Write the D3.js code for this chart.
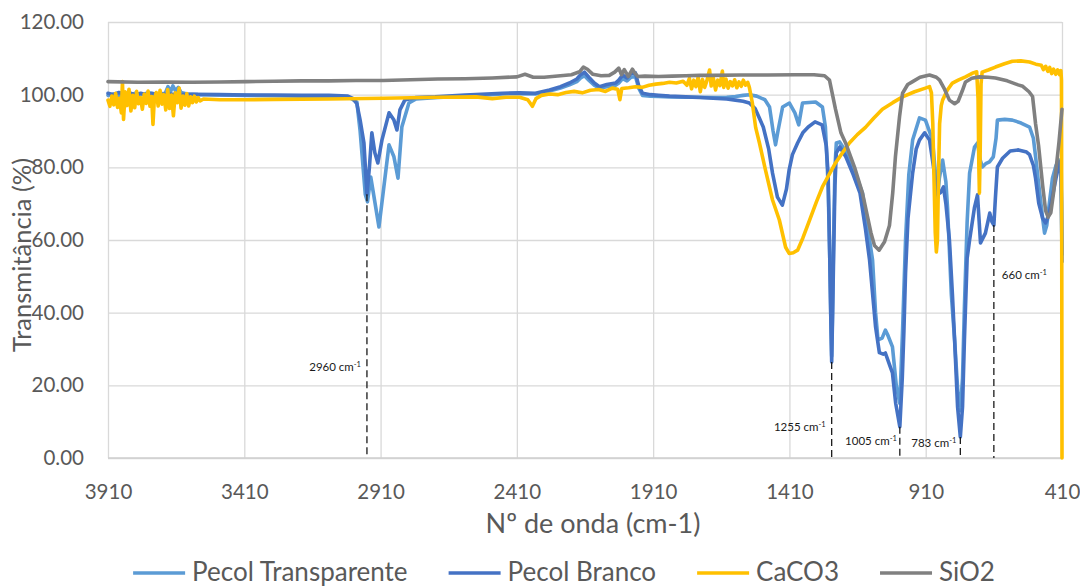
<!DOCTYPE html>
<html>
<head>
<meta charset="utf-8">
<script src="https://cdn.jsdelivr.net/npm/d3@7"></script>
<style>
  html, body { margin: 0; padding: 0; background: #fff; }
  svg { display: block; font-family: Lato, "Noto Sans", sans-serif; }
</style>
</head>
<body>
<svg id="chart" width="1080" height="588"></svg>
<script>
// ---- Axis ticks -----------------------------------------------------------
const xTicks = [3910, 3410, 2910, 2410, 1910, 1410, 910, 410];
const yTicks = [0, 20, 40, 60, 80, 100, 120];
const seriesNames = ["Pecol Transparente", "Pecol Branco", "CaCO3", "SiO2"];

// ---- Spectra: [wavenumber (cm-1), transmittance (%)] ----------------------
const pecolTransparente = [
  [3910,99.8],[3890,100.2],[3870,99.7],[3850,100.3],[3830,99.8],[3810,100.4],[3790,100.0],
  [3760,100.5],[3730,100.1],[3700,100.4],[3690,102.2],[3680,100.9],[3672,102.4],[3662,101.0],
  [3652,102.0],[3642,100.6],[3620,100.2],[3580,100.0],[3500,99.9],[3400,99.8],[3300,99.7],
  [3200,99.6],[3100,99.5],[3040,99.3],[3020,99.0],[2997,98.0],[2985,90.0],[2966,72.5],
  [2958,70.5],[2946,77.3],[2930,70.0],[2916,63.6],[2898,74.6],[2879,86.2],[2861,82.9],
  [2846,77.0],[2832,91.1],[2806,97.7],[2780,98.8],[2700,99.2],[2600,99.6],[2463,100.2],
  [2400,100.3],[2342,100.2],[2290,101.0],[2250,101.8],[2217,102.7],[2190,103.6],[2176,104.6],
  [2162,105.2],[2146,104.0],[2126,102.6],[2107,101.8],[2080,102.2],[2048,102.6],[2036,103.2],
  [2022,104.4],[2006,103.8],[1991,104.8],[1975,105.0],[1963,101.8],[1949,99.8],[1920,99.6],
  [1890,99.5],[1850,99.4],[1790,99.3],[1740,99.3],[1690,99.2],[1640,99.3],[1608,99.5],
  [1580,99.8],[1557,100.0],[1530,99.6],[1500,98.6],[1483,96.6],[1470,90.0],[1461,86.2],
  [1452,90.0],[1435,96.6],[1410,97.7],[1390,95.0],[1376,91.7],[1362,97.7],[1314,98.0],
  [1289,96.6],[1278,91.1],[1268,75.0],[1262,55.0],[1258,38.0],[1255,28.0],[1252,40.0],
  [1248,60.0],[1243,80.0],[1238,86.7],[1226,87.0],[1190,82.9],[1142,72.9],[1105,54.5],
  [1094,40.0],[1085,32.5],[1070,33.0],[1058,35.2],[1050,34.0],[1032,30.6],[1018,20.0],
  [1005,15.0],[995,35.0],[984,60.0],[972,78.0],[958,87.5],[933,93.6],[911,93.0],[885,87.5],
  [874,78.0],[867,71.5],[860,77.0],[848,82.0],[836,76.0],[830,69.0],[816,45.0],[804,32.5],
  [792,18.0],[783,13.0],[775,22.0],[768,41.6],[758,65.0],[749,78.4],[731,85.6],[720,86.7],
  [710,82.0],[702,80.1],[690,81.0],[676,81.5],[662,82.9],[652,88.0],[647,93.0],[620,93.2],
  [592,93.0],[560,92.2],[529,91.1],[515,88.0],[507,83.0],[495,75.0],[481,66.0],[474,61.9],
  [466,64.0],[455,71.0],[445,77.0],[432,80.5],[419,82.0],[413,79.5],[410,56.0]
];

const pecolBranco = [
  [3910,100.4],[3890,100.0],[3870,100.6],[3850,100.1],[3830,100.5],[3810,99.9],[3790,100.4],
  [3770,100.0],[3750,100.3],[3720,100.0],[3690,100.2],[3650,100.0],[3600,100.1],[3500,100.0],
  [3400,99.9],[3300,99.9],[3200,99.8],[3100,99.8],[3030,99.6],[3012,99.0],[2997,97.5],
  [2985,93.0],[2971,86.7],[2960,72.6],[2951,80.0],[2942,89.5],[2931,84.0],[2920,81.2],
  [2905,87.5],[2879,95.0],[2861,93.0],[2850,90.3],[2839,95.8],[2821,98.5],[2780,99.2],
  [2710,99.4],[2600,99.9],[2463,100.4],[2400,100.5],[2342,100.4],[2290,101.3],[2250,102.2],
  [2217,103.2],[2190,104.3],[2176,105.5],[2162,106.2],[2146,104.8],[2126,103.2],[2107,102.2],
  [2080,102.8],[2048,103.2],[2036,104.0],[2022,105.4],[2006,104.6],[1991,105.8],[1975,106.0],
  [1963,102.5],[1949,100.4],[1920,100.0],[1890,99.8],[1850,99.6],[1790,99.4],[1740,99.2],
  [1690,99.0],[1640,98.8],[1608,98.5],[1580,98.2],[1557,97.7],[1536,96.2],[1520,93.5],
  [1506,91.1],[1486,85.0],[1472,78.4],[1454,71.8],[1436,69.6],[1421,74.0],[1411,79.3],
  [1399,83.5],[1380,86.7],[1361,89.5],[1341,91.1],[1316,92.5],[1290,91.7],[1275,86.0],
  [1268,78.0],[1262,55.0],[1258,38.0],[1255,26.4],[1252,38.0],[1248,55.0],[1243,75.0],
  [1238,84.0],[1225,85.6],[1203,82.9],[1176,78.0],[1151,72.9],[1131,63.0],[1116,54.5],
  [1101,42.0],[1094,36.1],[1080,29.0],[1066,28.6],[1058,28.9],[1042,25.5],[1032,23.4],
  [1020,15.0],[1005,8.6],[996,22.0],[990,35.0],[984,50.9],[975,66.0],[958,78.4],[945,85.0],
  [933,87.5],[914,89.5],[896,87.5],[878,78.4],[868,72.5],[856,73.0],[845,74.6],[836,70.0],
  [823,60.0],[812,45.0],[804,32.5],[793,14.0],[783,5.8],[775,14.0],[768,32.5],[758,55.0],
  [749,60.0],[731,69.0],[720,72.4],[709,59.2],[691,61.9],[675,67.4],[667,65.0],[660,64.1],
  [654,72.0],[647,80.1],[628,82.5],[600,84.5],[570,84.8],[540,84.2],[529,83.5],[515,80.5],
  [507,77.0],[495,70.0],[481,66.0],[470,64.7],[458,67.0],[445,72.0],[432,77.0],[419,81.5],
  [414,79.0],[412,70.0],[410,54.0]
];

const caco3 = [
  [3910,98.5],[3903,96.8],[3896,99.6],[3889,97.2],[3882,100.4],[3875,96.5],[3868,99.0],
  [3861,95.0],[3857,103.6],[3853,93.2],[3847,100.8],[3840,97.0],[3833,101.5],[3826,95.5],
  [3819,99.8],[3812,96.4],[3805,100.9],[3798,97.5],[3791,99.2],[3784,96.0],[3777,100.2],
  [3770,97.6],[3763,101.0],[3756,96.8],[3750,99.5],[3745,91.8],[3740,98.8],[3733,100.6],
  [3726,96.9],[3719,101.2],[3712,97.4],[3705,100.0],[3698,95.8],[3691,101.4],[3684,96.2],
  [3677,99.9],[3670,94.2],[3663,100.5],[3656,97.8],[3649,101.8],[3642,96.3],[3635,99.6],
  [3628,97.1],[3621,100.3],[3614,96.9],[3607,99.4],[3600,97.8],[3593,99.6],[3586,98.0],
  [3579,99.2],[3572,98.3],[3560,98.8],[3500,98.6],[3400,98.6],[3300,98.7],[3100,98.8],
  [2900,99.0],[2700,99.3],[2560,99.4],[2500,98.9],[2450,99.3],[2400,99.3],[2370,98.6],
  [2353,96.8],[2340,98.9],[2320,99.8],[2290,100.2],[2260,100.0],[2230,100.6],[2200,100.9],
  [2170,100.5],[2140,101.2],[2110,101.4],[2085,100.9],[2060,101.8],[2040,101.5],[2032,98.6],
  [2025,101.7],[2000,101.9],[1975,102.2],[1950,102.0],[1925,102.6],[1900,102.9],[1875,103.1],
  [1850,103.4],[1825,103.2],[1800,103.7],[1786,102.6],[1777,104.5],[1769,101.6],[1761,104.0],
  [1753,102.2],[1745,104.8],[1737,100.8],[1729,104.2],[1721,102.0],[1713,103.8],[1703,106.8],
  [1697,102.4],[1689,104.6],[1681,101.3],[1673,104.0],[1665,102.5],[1656,106.5],[1651,102.0],
  [1643,104.3],[1635,101.8],[1627,103.6],[1619,102.4],[1611,104.1],[1603,101.9],[1595,103.5],
  [1587,102.3],[1579,104.0],[1571,102.6],[1563,103.4],[1557,102.0],[1546,97.7],[1534,91.0],
  [1520,86.7],[1506,82.0],[1498,79.3],[1472,71.0],[1447,65.5],[1424,58.0],[1411,56.3],
  [1396,56.5],[1380,57.2],[1361,60.5],[1336,65.5],[1311,70.5],[1289,74.6],[1261,78.5],
  [1241,81.2],[1211,84.5],[1190,86.7],[1161,89.0],[1131,91.0],[1101,93.5],[1069,96.0],
  [1031,97.8],[995,99.4],[951,100.8],[911,101.8],[896,102.2],[889,100.5],[884,92.0],
  [879,75.0],[875,62.0],[871,56.7],[867,60.0],[863,78.0],[859,92.0],[853,97.0],[848,98.5],
  [831,101.2],[812,103.2],[791,104.0],[764,104.9],[736,106.0],[723,106.3],[718,99.0],
  [715,80.0],[713,72.9],[710,85.0],[707,103.0],[703,106.2],[681,106.8],[654,107.6],
  [621,108.5],[592,109.2],[561,109.3],[529,109.0],[506,108.4],[486,108.1],[478,106.9],
  [470,107.8],[462,106.4],[455,107.5],[448,105.8],[441,107.0],[433,105.6],[426,106.8],
  [419,105.5],[414,106.6],[412,104.0],[411,60.0],[410,0.0]
];

const sio2 = [
  [3910,103.6],[3800,103.4],[3700,103.5],[3600,103.4],[3500,103.5],[3400,103.6],[3300,103.7],
  [3200,103.8],[3100,103.8],[3000,103.9],[2900,103.9],[2800,104.1],[2700,104.3],[2600,104.4],
  [2500,104.6],[2410,104.9],[2380,105.6],[2350,104.8],[2310,104.8],[2250,105.2],[2210,105.5],
  [2180,106.3],[2166,107.6],[2151,107.0],[2131,105.6],[2101,105.2],[2071,105.3],[2051,106.2],
  [2036,107.3],[2026,105.5],[2016,106.9],[2001,105.0],[1986,107.0],[1976,105.8],[1966,105.0],
  [1940,105.1],[1890,105.0],[1840,105.1],[1790,105.2],[1740,105.3],[1690,105.3],[1590,105.4],
  [1490,105.4],[1390,105.5],[1320,105.5],[1281,105.2],[1263,104.0],[1241,96.0],[1221,89.5],
  [1204,86.7],[1171,80.0],[1142,72.9],[1111,62.0],[1098,58.5],[1081,57.2],[1061,59.5],
  [1043,64.0],[1031,73.0],[1021,83.0],[1006,94.0],[995,100.4],[976,102.8],[958,103.6],
  [931,104.8],[896,105.4],[871,104.8],[859,104.0],[841,101.5],[823,98.5],[804,97.5],
  [791,98.2],[776,101.0],[764,103.5],[741,104.5],[713,104.9],[681,104.8],[654,104.6],
  [611,103.8],[571,102.7],[554,102.3],[531,100.8],[518,99.5],[507,92.0],[496,86.0],
  [481,75.0],[470,68.0],[461,66.3],[451,67.5],[441,73.0],[434,78.0],[421,87.0],[410,96.0]
];

// Band assignments marked with dashed drop lines (cm-1)
const bandMarks = [2960, 1255, 1005, 783, 660];

// ---- Layout -------------------------------------------------------------
const plot = { left: 108, right: 1062, top: 22, bottom: 458 };
const colors = ["#5B9BD5", "#4472C4", "#FFC000", "#808080"];
const textColor = "#595959";
const gridColor = "#D9D9D9";

const svg = d3.select("#chart");

const x = d3.scaleLinear().domain([3910, 410]).range([plot.left, plot.right]);
const y = d3.scaleLinear().domain([0, 120]).range([plot.bottom, plot.top]);

// Horizontal gridlines + y tick labels
const yAxis = svg.append("g")
  .attr("transform", `translate(${plot.left},0)`)
  .call(d3.axisLeft(y).tickValues(yTicks).tickFormat(d3.format(".2f"))
    .tickSize(-(plot.right - plot.left)).tickPadding(24));
yAxis.select(".domain").remove();
yAxis.selectAll(".tick line").attr("stroke", gridColor).attr("stroke-width", 1.3);
yAxis.selectAll(".tick text").attr("fill", textColor)
  .style("font-size", "20.5px").style("font-family", "Lato, 'Noto Sans', sans-serif");

// Vertical gridlines + x tick labels
const xAxis = svg.append("g")
  .attr("transform", `translate(0,${plot.bottom})`)
  .call(d3.axisBottom(x).tickValues(xTicks).tickFormat(d3.format("d"))
    .tickSize(-(plot.bottom - plot.top)).tickPadding(26));
xAxis.select(".domain").remove();
xAxis.selectAll(".tick line").attr("stroke", gridColor).attr("stroke-width", 1.3);
xAxis.selectAll(".tick text").attr("fill", textColor)
  .style("font-size", "20.5px").style("font-family", "Lato, 'Noto Sans', sans-serif");

// Bottom axis line
svg.append("line")
  .attr("x1", plot.left).attr("x2", plot.right)
  .attr("y1", plot.bottom).attr("y2", plot.bottom)
  .attr("stroke", "#CFCFCF").attr("stroke-width", 1.3);

// Spectra
const line = d3.line().x(d => x(d[0])).y(d => y(d[1]));
const allSeries = [pecolTransparente, pecolBranco, caco3, sio2];
svg.append("g").selectAll("path").data(allSeries).join("path")
  .attr("d", line)
  .attr("fill", "none")
  .attr("stroke", (d, i) => colors[i])
  .attr("stroke-width", 3.6)
  .attr("stroke-linejoin", "round")
  .attr("stroke-linecap", "round");

// Dashed drop lines from the Pecol Branco band minima, with labels
const valueAt = wn => pecolBranco.find(p => p[0] === wn)[1];
const labelPlacement = {
  2960: { dx: -6, y: 371, anchor: "end" },
  1255: { dx: -6, y: 431, anchor: "end" },
  1005: { dx: -3, y: 445, anchor: "end" },
  783:  { dx: -4, y: 447, anchor: "end" },
  660:  { dx: 8,  y: 279, anchor: "start" }
};
const marks = svg.append("g");
bandMarks.forEach(wn => {
  marks.append("line")
    .attr("x1", x(wn)).attr("x2", x(wn))
    .attr("y1", y(valueAt(wn))).attr("y2", y(0))
    .attr("stroke", "#1a1a1a").attr("stroke-width", 1.3)
    .attr("stroke-dasharray", "7,4");
  const p = labelPlacement[wn];
  const t = marks.append("text")
    .attr("x", x(wn) + p.dx).attr("y", p.y)
    .attr("text-anchor", p.anchor)
    .attr("fill", "#1a1a1a")
    .style("font-size", "11.5px");
  t.append("tspan").text(`${wn} cm`);
  t.append("tspan").attr("dy", -4.5).style("font-size", "7.5px").text("-1");
});

// Axis titles
svg.append("text")
  .attr("x", 593).attr("y", 533)
  .attr("text-anchor", "middle")
  .attr("fill", textColor)
  .style("font-size", "27px")
  .text("Nº de onda (cm-1)");

svg.append("text")
  .attr("transform", "translate(31,255) rotate(-90)")
  .attr("text-anchor", "middle")
  .attr("fill", textColor)
  .style("font-size", "25.5px")
  .text("Transmitância (%)");

// Legend
const legend = svg.append("g");
let cursor = 0;
seriesNames.forEach((name, i) => {
  const g = legend.append("g").attr("transform", `translate(${cursor},0)`);
  g.append("line").attr("x1", 0).attr("x2", 52).attr("y1", 573).attr("y2", 573)
    .attr("stroke", colors[i]).attr("stroke-width", 3.5);
  const t = g.append("text").attr("x", 59).attr("y", 581)
    .attr("fill", textColor).style("font-size", "26px").text(name);
  cursor += 59 + t.node().getComputedTextLength() + 41;
});
const legendWidth = cursor - 41;
legend.attr("transform", `translate(${564 - legendWidth / 2},0)`);
</script>
</body>
</html>
